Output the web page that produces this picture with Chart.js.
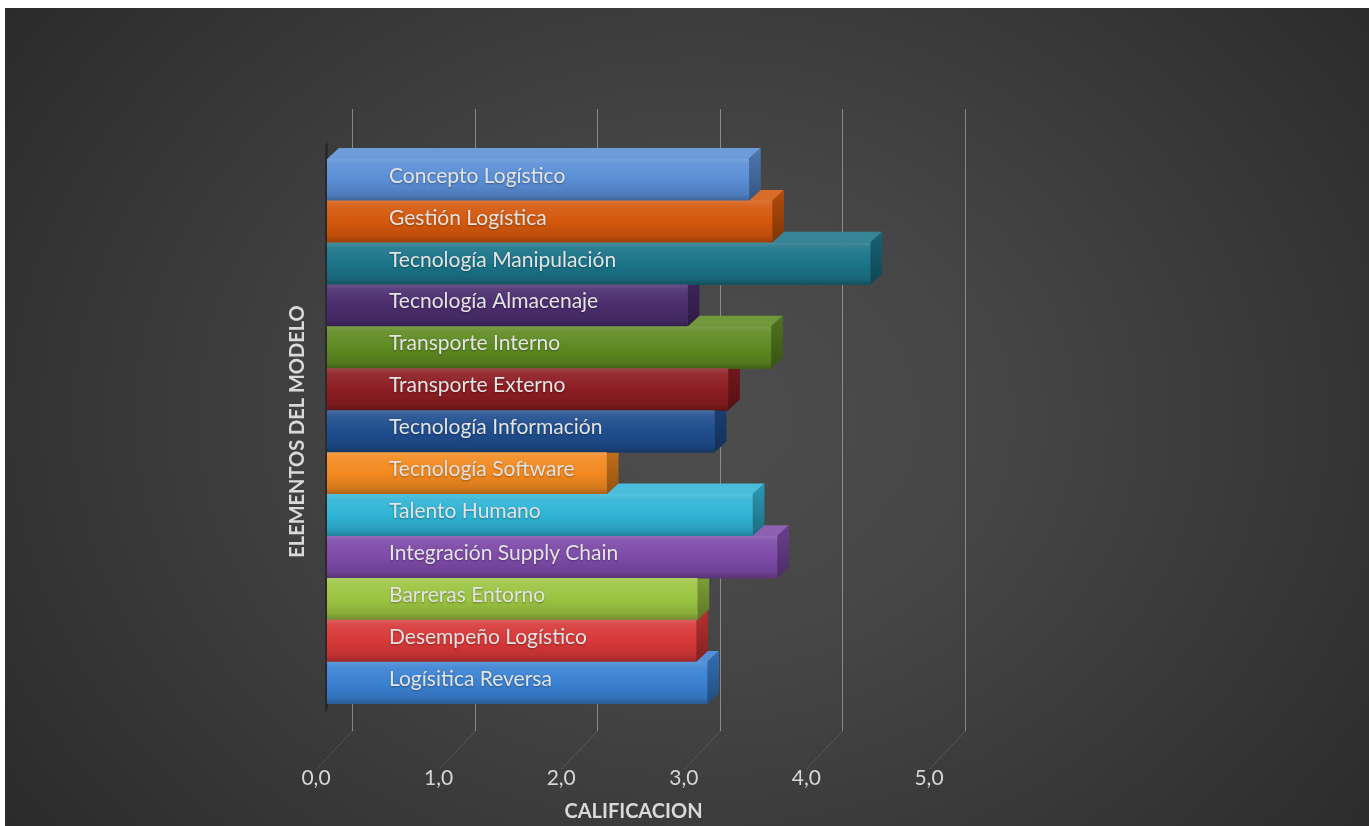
<!DOCTYPE html>
<html><head><meta charset="utf-8">
<script src="https://cdn.jsdelivr.net/npm/chart.js@4.4.0/dist/chart.umd.min.js"></script>
<style>
html,body{margin:0;padding:0;background:#fff;overflow:hidden;}
#wrap{position:absolute;left:5px;top:8px;width:1364px;height:818px;
background: radial-gradient(ellipse 70% 95% at 51% 50%, #4d4d4d 0%, #464646 30%, #363636 65%, #262626 100%);}
canvas{display:block}
</style></head><body>
<div id="wrap"><canvas id="c" width="1364" height="818"></canvas></div>
<script>
const categories = ['Concepto Logístico','Gestión Logística','Tecnología Manipulación','Tecnología Almacenaje','Transporte Interno','Transporte Externo','Tecnología Información','Tecnología Software','Talento Humano','Integración Supply Chain','Barreras Entorno','Desempeño Logístico','Logísitica Reversa'];
const values = [3.44, 3.63, 4.43, 2.94, 3.62, 3.27, 3.16, 2.28, 3.47, 3.67, 3.02, 3.01, 3.10];
const barColors = ['#5a8ed6','#d4580c','#1b7488','#4b2d6e','#5e8a22','#8c1d22','#1f4e8e','#f28a20','#30b4d6','#7d4aa8','#9bc441','#d83838','#3b82d2'];
const tickLabels = ['0,0','1,0','2,0','3,0','4,0','5,0'];
const xTitle = 'CALIFICACION';
const yTitle = 'ELEMENTOS DEL MODELO';

const DX = 12, DY = 11;
function shade(hex, f){
  let r=parseInt(hex.slice(1,3),16), g=parseInt(hex.slice(3,5),16), b=parseInt(hex.slice(5,7),16);
  if(f>=0){ r=r+(255-r)*f; g=g+(255-g)*f; b=b+(255-b)*f; }
  else { r=r*(1+f); g=g*(1+f); b=b*(1+f); }
  return 'rgb('+Math.round(r)+','+Math.round(g)+','+Math.round(b)+')';
}

const depthPlugin = {
  id:'depth',
  beforeDatasetsDraw(chart){
    const ctx = chart.ctx, xs = chart.scales.x, ca = chart.chartArea;
    ctx.save();
    ctx.lineWidth = 1;
    for(let v=0; v<tickLabels.length; v++){
      const px = Math.round(xs.getPixelForValue(v)) + 0.5;
      const bx = px + 25;
      ctx.strokeStyle = 'rgba(185,185,185,0.6)';
      ctx.beginPath(); ctx.moveTo(bx, ca.top - 50); ctx.lineTo(bx, ca.bottom + 27); ctx.stroke();
      ctx.strokeStyle = 'rgba(185,185,185,0.3)';
      ctx.setLineDash([2,1]);
      ctx.beginPath(); ctx.moveTo(bx, ca.bottom + 27); ctx.lineTo(px - 11, ca.bottom + 65); ctx.stroke();
      ctx.setLineDash([]);
    }
    // left wall edge
    ctx.fillStyle = 'rgba(25,25,25,0.55)';
    ctx.beginPath();
    ctx.moveTo(ca.left-2, ca.top - DY - 2); ctx.lineTo(ca.left+1, ca.top - DY - 6);
    ctx.lineTo(ca.left+1, ca.bottom+4); ctx.lineTo(ca.left-2, ca.bottom+10); ctx.closePath(); ctx.fill();
    const meta = chart.getDatasetMeta(0);
    for(let i = meta.data.length-1; i >= 0; i--){
      const p = meta.data[i].getProps(['x','y','base','height'], true);
      const top = p.y - p.height/2, bot = p.y + p.height/2;
      const c = barColors[i];
      ctx.fillStyle = shade(c, 0.12);
      ctx.beginPath();
      ctx.moveTo(p.base, top); ctx.lineTo(p.x, top); ctx.lineTo(p.x+DX, top-DY); ctx.lineTo(p.base+DX, top-DY);
      ctx.closePath(); ctx.fill();
      const g = ctx.createLinearGradient(0, top-DY, 0, bot);
      g.addColorStop(0, shade(c, -0.15)); g.addColorStop(1, shade(c, -0.4));
      ctx.fillStyle = g;
      ctx.beginPath();
      ctx.moveTo(p.x, top); ctx.lineTo(p.x+DX, top-DY); ctx.lineTo(p.x+DX, bot-DY); ctx.lineTo(p.x, bot);
      ctx.closePath(); ctx.fill();
    }
    ctx.restore();
  },
  afterDatasetsDraw(chart){
    const ctx = chart.ctx;
    const meta = chart.getDatasetMeta(0);
    ctx.save();
    ctx.font = '21px Lato';
    ctx.textBaseline = 'middle';
    ctx.fillStyle = '#e4e4e4';
    ctx.shadowColor = 'rgba(0,0,0,0.35)'; ctx.shadowBlur = 2; ctx.shadowOffsetY = 1;
    meta.data.forEach((el, i) => {
      const p = el.getProps(['x','y','base','height'], true);
      ctx.fillText(categories[i], p.base + 62, p.y - 4);
    });
    ctx.restore();
  }
};

new Chart(document.getElementById('c'), {
  type: 'bar',
  data: {
    labels: categories,
    datasets: [{
      data: values,
      borderWidth: 0,
      barPercentage: 1.0,
      categoryPercentage: 1.0,
      backgroundColor: (ctx) => {
        const chart = ctx.chart, c = barColors[ctx.dataIndex];
        if(!chart.chartArea) return c;
        const ys = chart.scales.y;
        const y = ys.getPixelForValue(ctx.dataIndex);
        const h = (chart.chartArea.bottom - chart.chartArea.top) / categories.length;
        const g = chart.ctx.createLinearGradient(0, y - h/2, 0, y + h/2);
        g.addColorStop(0, shade(c, 0.18));
        g.addColorStop(0.12, shade(c, 0.08));
        g.addColorStop(0.5, c);
        g.addColorStop(0.85, shade(c, -0.12));
        g.addColorStop(1, shade(c, -0.3));
        return g;
      }
    }]
  },
  options: {
    indexAxis: 'y',
    responsive: false,
    animation: false,
    devicePixelRatio: 1,
    layout: { padding: { left: 277, right: 429, top: 151, bottom: 0 } },
    plugins: { legend: { display: false }, tooltip: { enabled: false } },
    scales: {
      x: {
        min: 0, max: 5,
        afterFit: (s) => { s.height = 122; },
        grid: { display: false, drawTicks: false },
        border: { display: false },
        ticks: {
          stepSize: 1, padding: 62, labelOffset: -11,
          color: '#d6d6d6', font: { family: 'Lato', size: 21 },
          callback: (v) => tickLabels[Math.round(v)]
        },
        title: { display: true, text: xTitle, color: '#d9d9d9', padding: { top: 8, bottom: 2 },
                 font: { family: 'Lato', size: 20, weight: 'bold' } }
      },
      y: {
        afterFit: (s) => { s.width = 45; },
        grid: { display: false, drawTicks: false },
        border: { display: false },
        ticks: { display: false },
        title: { display: true, text: yTitle, color: '#d9d9d9', padding: { top: 4, bottom: 10 },
                 font: { family: 'Lato', size: 20, weight: 'bold' } }
      }
    }
  },
  plugins: [depthPlugin]
});
</script>
</body></html>
